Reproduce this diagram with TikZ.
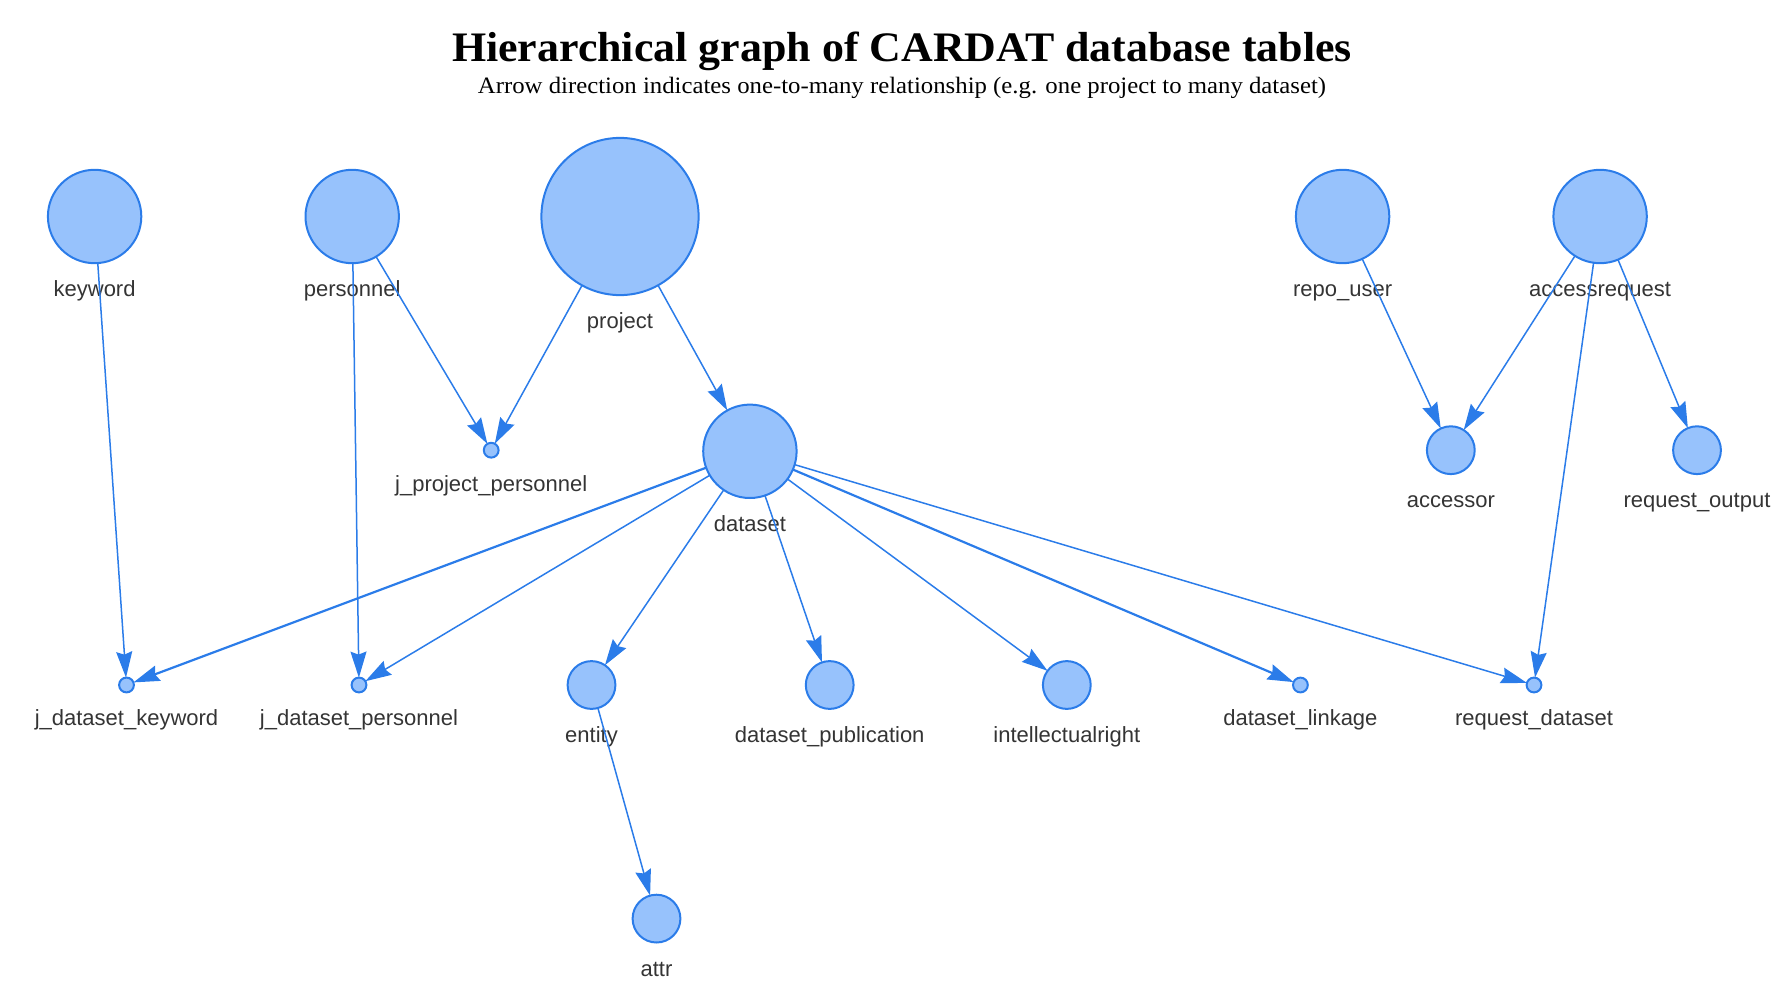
\documentclass[tikz,border=0pt]{standalone}
\usepackage{fontspec}
\setmainfont{Liberation Serif}
\newfontfamily\labfont{Liberation Sans}
\usetikzlibrary{arrows.meta}
\definecolor{nodefill}{HTML}{97C2FC}
\definecolor{nodeline}{HTML}{2B7CE9}
\definecolor{labcol}{HTML}{343434}
\tikzset{
  vnode/.style={circle, draw=nodeline, fill=nodefill, line width=2pt, inner sep=0pt, outer sep=0pt, minimum size=#1},
  lab/.style={anchor=base, text=labcol, font=\labfont\fontsize{22}{26}\selectfont, inner sep=0pt},
  edge/.style={draw=nodeline, line width=1.5pt, -{Stealth[length=26pt,width=16pt,inset=3pt]}},
  thickedge/.style={edge, line width=2.2pt},
}
\begin{document}
\begin{tikzpicture}[x=1pt,y=-1pt]
\path[use as bounding box] (0,0) rectangle (1787,1003);
% title
\node[anchor=base] (title) at (902,62) {\resizebox{900pt}{\height}{\fontsize{42}{48}\selectfont\bfseries Hierarchical graph of CARDAT database tables}};
\node[anchor=base] (subtitle) at (902,94) {\resizebox{848pt}{\height}{\fontsize{23.5}{28}\selectfont Arrow direction indicates one-to-many relationship (e.g. one project to many dataset)}};
% level 1
\node[vnode=93.4pt] (keyword) at (94.6,216.5) {};
\node[vnode=93.4pt] (personnel) at (352.2,216.5) {};
\node[vnode=157.2pt] (project) at (620,216.5) {};
\node[vnode=93.4pt] (repouser) at (1342.6,216.5) {};
\node[vnode=93.4pt] (accessrequest) at (1600.1,216.5) {};
% level 2
\node[vnode=14.8pt] (jpp) at (491.2,450.2) {};
\node[vnode=93.4pt] (dataset) at (749.9,451.3) {};
\node[vnode=47.8pt] (accessor) at (1450.8,450.2) {};
\node[vnode=47.8pt] (requestoutput) at (1697,450.2) {};
% level 3
\node[vnode=14.8pt] (jdk) at (126.5,685) {};
\node[vnode=14.8pt] (jdp) at (359,685) {};
\node[vnode=47.8pt] (entity) at (591.5,685) {};
\node[vnode=47.8pt] (dpub) at (829.7,685) {};
\node[vnode=47.8pt] (iright) at (1066.8,685) {};
\node[vnode=14.8pt] (dlink) at (1300.4,685) {};
\node[vnode=14.8pt] (rds) at (1534,685) {};
% level 4
\node[vnode=47.8pt] (attr) at (656.5,918.6) {};
% labels
\node[lab] (keyword-l) at ([yshift=-33.5pt]keyword.south) {keyword};
\node[lab] (personnel-l) at ([yshift=-33.5pt]personnel.south) {personnel};
\node[lab] (project-l) at ([yshift=-33.5pt]project.south) {project};
\node[lab] (repouser-l) at ([yshift=-33.5pt]repouser.south) {repo\_user};
\node[lab] (accessrequest-l) at ([yshift=-33.5pt]accessrequest.south) {accessrequest};
\node[lab] (jpp-l) at ([yshift=-33.5pt]jpp.south) {j\_project\_personnel};
\node[lab] (dataset-l) at ([yshift=-33.5pt]dataset.south) {dataset};
\node[lab] (accessor-l) at ([yshift=-33.5pt]accessor.south) {accessor};
\node[lab] (requestoutput-l) at ([yshift=-33.5pt]requestoutput.south) {request\_output};
\node[lab] (jdk-l) at ([yshift=-33.5pt]jdk.south) {j\_dataset\_keyword};
\node[lab] (jdp-l) at ([yshift=-33.5pt]jdp.south) {j\_dataset\_personnel};
\node[lab] (entity-l) at ([yshift=-33.5pt]entity.south) {entity};
\node[lab] (dpub-l) at ([yshift=-33.5pt]dpub.south) {dataset\_publication};
\node[lab] (iright-l) at ([yshift=-33.5pt]iright.south) {intellectualright};
\node[lab] (dlink-l) at ([yshift=-33.5pt]dlink.south) {dataset\_linkage};
\node[lab] (rds-l) at ([yshift=-33.5pt]rds.south) {request\_dataset};
\node[lab] (attr-l) at ([yshift=-33.5pt]attr.south) {attr};
% edges
\draw[edge] (keyword) -- (jdk);
\draw[edge] (personnel) -- (jdp);
\draw[edge] (personnel) -- (jpp);
\draw[edge] (project) -- (jpp);
\draw[edge] (project) -- (dataset);
\draw[thickedge] (dataset) -- (jdk);
\draw[edge] (dataset) -- (jdp);
\draw[edge] (dataset) -- (entity);
\draw[edge] (dataset) -- (dpub);
\draw[edge] (dataset) -- (iright);
\draw[thickedge] (dataset) -- (dlink);
\draw[edge] (dataset) -- (rds);
\draw[edge] (entity) -- (attr);
\draw[edge] (repouser) -- (accessor);
\draw[edge] (accessrequest) -- (accessor);
\draw[edge] (accessrequest) -- (rds);
\draw[edge] (accessrequest) -- (requestoutput);
\end{tikzpicture}
\end{document}
